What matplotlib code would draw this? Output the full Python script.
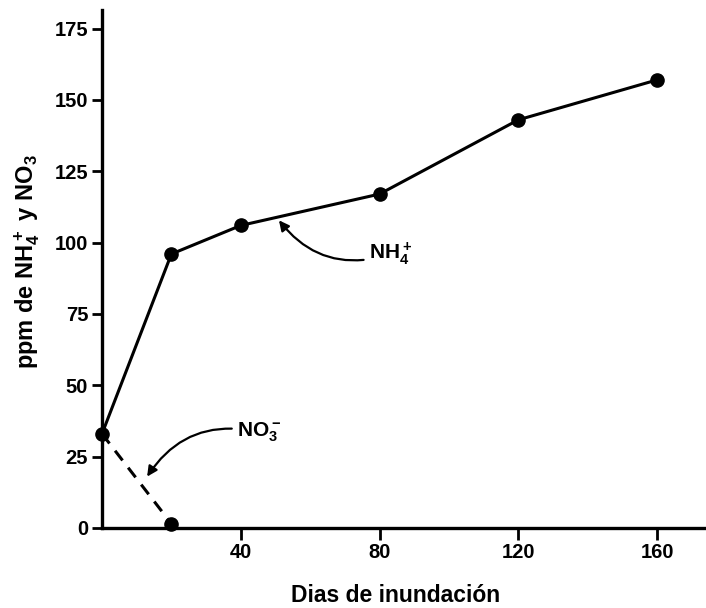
import numpy as np
import matplotlib
matplotlib.use("Agg")
import matplotlib.pyplot as plt

# datos
dias_nh4 = [0, 20, 40, 80, 120, 160]
ppm_nh4 = [33, 96, 106, 117, 143, 157]
dias_no3 = [0, 20]
ppm_no3 = [33, 1.5]

xticks = [40, 80, 120, 160]
yticks = [0, 25, 50, 75, 100, 125, 150, 175]

plt.rcParams['font.family'] = ['Liberation Sans', 'DejaVu Sans']
plt.rcParams['font.weight'] = 'bold'
plt.rcParams['mathtext.fontset'] = 'custom'
plt.rcParams['mathtext.rm'] = 'Liberation Sans:bold'
plt.rcParams['mathtext.default'] = 'rm'

fig = plt.figure(figsize=(7.06, 6.08), dpi=100)
ax = fig.add_axes([0.1445, 0.1316, 0.855, 0.852])

ax.plot(dias_nh4, ppm_nh4, color='black', lw=2.2, marker='o', ms=9.5, clip_on=False, zorder=3)
ax.plot(dias_no3, ppm_no3, color='black', lw=2.2, ls=(0, (4, 3)), clip_on=False, zorder=3)
ax.plot(dias_no3[1:], ppm_no3[1:], 'o', color='black', ms=9.5, clip_on=False, zorder=4)

ax.set_xlim(0, 174)
ax.set_ylim(0, 181.5)
ax.set_xticks(xticks)
ax.set_yticks(yticks)
ax.tick_params(axis='both', labelsize=14.5, width=2, direction='out', color='black')
ax.tick_params(axis='x', length=8.5, pad=2.5)
ax.tick_params(axis='y', length=7, pad=3)
for lab in ax.get_xticklabels() + ax.get_yticklabels():
    lab.set_fontweight('bold')

for s in ['top', 'right']:
    ax.spines[s].set_visible(False)
for s in ['left', 'bottom']:
    ax.spines[s].set_linewidth(2.4)

ax.set_xlabel('Dias de inundación', fontsize=16.5, fontweight='bold')
ax.xaxis.set_label_coords(0.487, -0.108)
ax.set_ylabel(r'ppm de NH$_4^+$ y NO$_3$', fontsize=17, fontweight='bold')
ax.yaxis.set_label_coords(-0.10, 0.515)

# flechas / anotaciones
ax.annotate(r'NH$_4^+$', xy=(51, 107.8), xytext=(77, 96),
            fontsize=15, fontweight='bold', va='center', ha='left',
            arrowprops=dict(arrowstyle='-|>', color='black', lw=1.6,
                            connectionstyle='arc3,rad=-0.35', shrinkA=2, shrinkB=0))
ax.annotate(r'NO$_3^-$', xy=(13, 18), xytext=(39, 33.5),
            fontsize=15, fontweight='bold', va='center', ha='left',
            arrowprops=dict(arrowstyle='-|>', color='black', lw=1.6,
                            connectionstyle='arc3,rad=0.35', shrinkA=2, shrinkB=0))

fig.savefig('out.png', dpi=100)
